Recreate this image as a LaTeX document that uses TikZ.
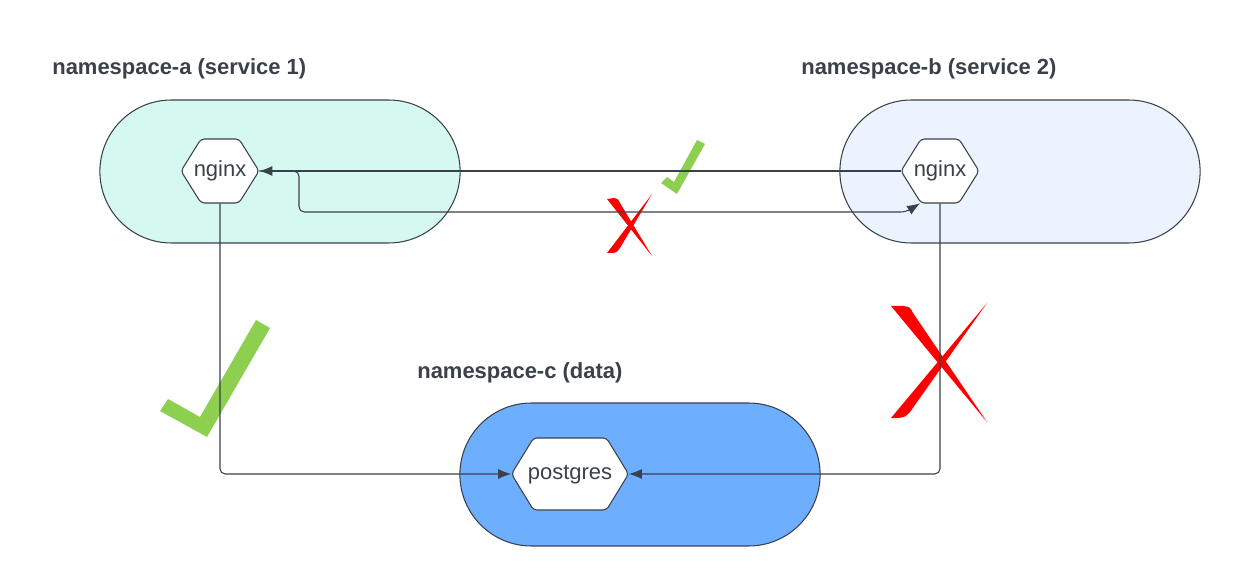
\documentclass[tikz,border=0pt]{standalone}
\usepackage{fontspec}
\setmainfont{Liberation Sans}
\usetikzlibrary{arrows.meta,shapes.misc,calc}
\definecolor{linegray}{HTML}{3A414A}
\definecolor{mint}{HTML}{D5F8F0}
\definecolor{paleblue}{HTML}{EBF3FE}
\definecolor{datablue}{HTML}{6DAEFF}
\definecolor{okgreen}{HTML}{8DD050}
\begin{document}
\begin{tikzpicture}[x=0.02cm, y=-0.02cm,
  zone/.style={rounded rectangle, draw=linegray, line width=0.6pt, minimum width=7.44cm, minimum height=2.86cm},
  title/.style={anchor=west, inner sep=0pt, text=linegray, font=\fontsize{12.5}{15}\selectfont\bfseries},
  hexa/.style={fill=white, draw=linegray, line width=0.6pt, rounded corners=2pt},
  pod/.style={inner sep=0pt, text height=6.5pt, text depth=0pt, text=linegray, font=\fontsize{12.5}{15}\selectfont},
  conn/.style={draw=linegray, line width=0.6pt, -{Latex[length=0.26cm,width=0.2cm]}}]
\useasboundingbox (0,0) rectangle (1240,587);
% namespaces
\node[zone, fill=mint] (za) at (280,171.5) {};
\node[zone, fill=paleblue] (zb) at (1020,171.5) {};
\node[zone, fill=datablue] (zc) at (640,474.5) {};
\node[title] (ta) at (52,69) {namespace-a (service 1)};
\node[title] (tb) at (801,69) {namespace-b (service 2)};
\node[title] (tc) at (417,373) {namespace-c (data)};
% pods
\filldraw[hexa] (181,171)--(201,139)--(239,139)--(259,171)--(239,203)--(201,203)--cycle;
\node[pod, minimum width=1.56cm, minimum height=1.28cm] (na) at (220,171) {nginx};
\filldraw[hexa] (901,171)--(921,139)--(959,139)--(979,171)--(959,203)--(921,203)--cycle;
\node[pod, minimum width=1.56cm, minimum height=1.28cm] (nb) at (940,171) {nginx};
\filldraw[hexa] (511.5,474)--(533.5,438)--(606.5,438)--(628.5,474)--(606.5,510)--(533.5,510)--cycle;
\node[pod, minimum width=2.34cm, minimum height=1.44cm] (pg) at (570,474) {postgres};
% allowed / blocked marks
\fill[okgreen] (160,411)--(168,399)--(200,417)--(256,320)--(270,328)--(207,437)--cycle;
\fill[okgreen] (661,183)--(667,177)--(674,182)--(697,140)--(705,144)--(677,194)--cycle;
\fill[red] (891,306)--(903,306) .. controls (910,307) .. (913,313)--(987,422)--cycle;
\fill[red] (987,303)--(910,412) .. controls (905,417) .. (898,418)--(891,418)--cycle;
\fill[red] (607,199)--(614,198) .. controls (618,199) .. (620,203)--(652,256)--cycle;
\fill[red] (652,194)--(620,248) .. controls (617,252) .. (613,253)--(607,253)--cycle;
% traffic
\draw[conn] (nb.west) -- (na.east);
\draw[conn, rounded corners=3pt] (na.east) -| (299,212) -- (906,212) -- ($(nb.south)+(-20,0)$);
\draw[conn, rounded corners=3pt] (na.south) |- (pg.west);
\draw[conn, rounded corners=3pt] (nb.south) |- (pg.east);
\end{tikzpicture}
\end{document}
